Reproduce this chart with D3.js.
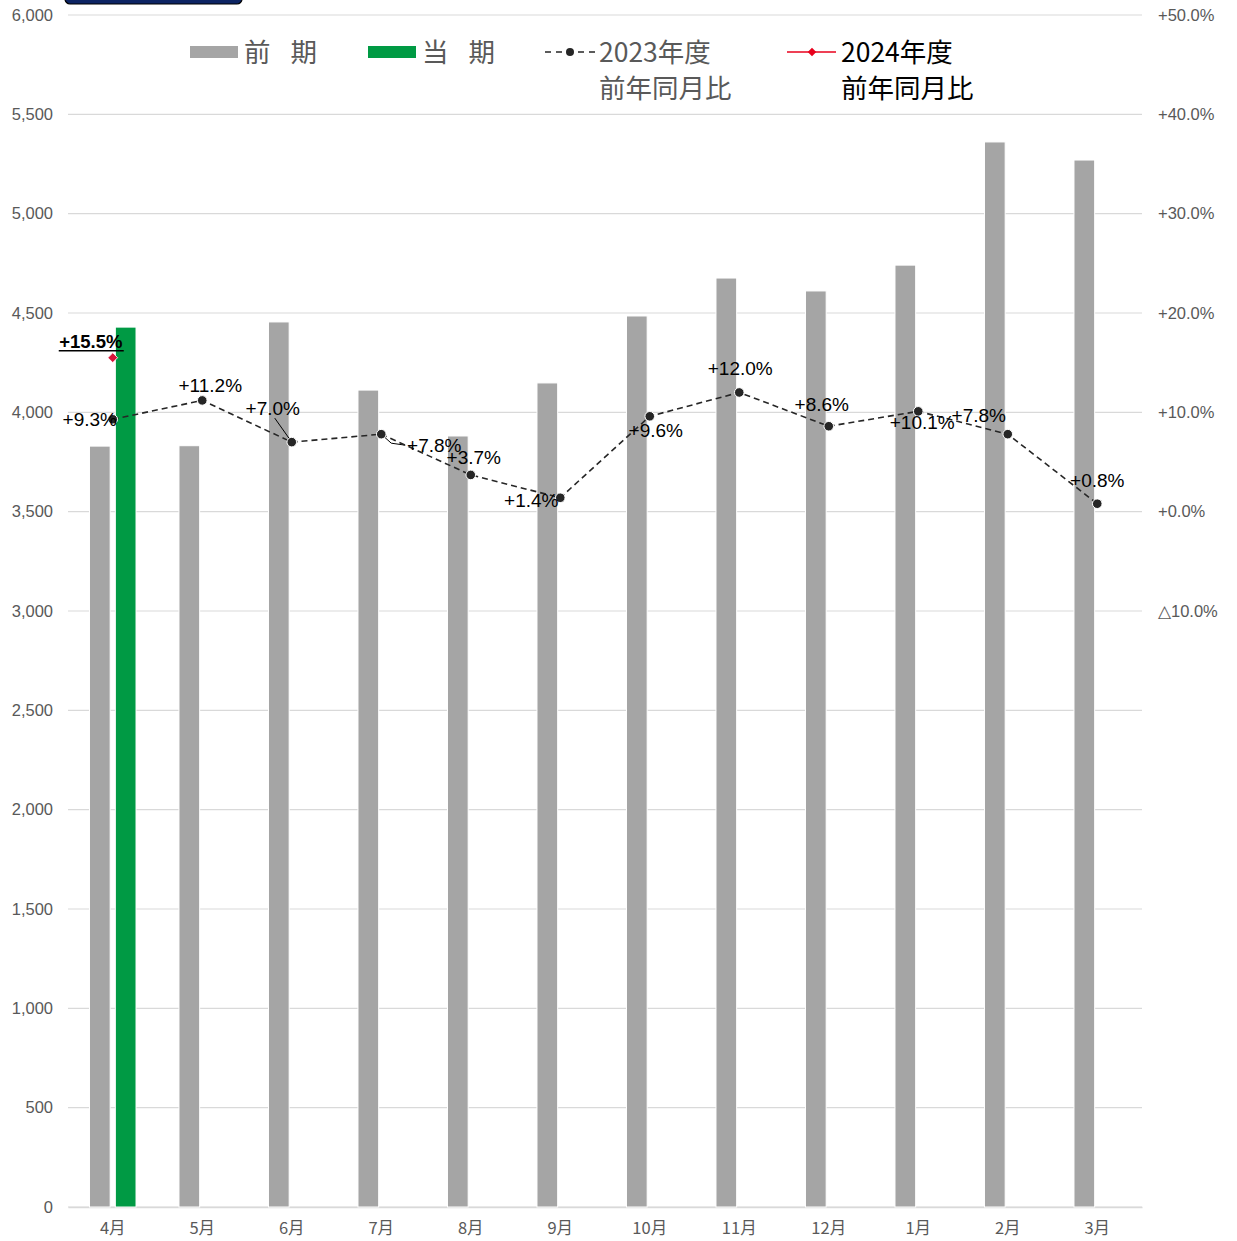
<!DOCTYPE html>
<html>
<head>
<meta charset="utf-8">
<script src="https://cdn.jsdelivr.net/npm/d3@7"></script>
<style>
  html, body { margin: 0; padding: 0; background: #fff; }
  svg { display: block; }
</style>
</head>
<body>
<svg id="chart" width="1237" height="1241"></svg>
<script>
// datos
const months = ["4月", "5月", "6月", "7月", "8月", "9月", "10月", "11月", "12月", "1月", "2月", "3月"];
const prevValues = [3830, 3832, 4455, 4112, 3881, 4148, 4485, 4676, 4611, 4741, 5361, 5270];
const curValues = [4429, null, null, null, null, null, null, null, null, null, null, null];
const yoy2023 = [9.3, 11.2, 7.0, 7.8, 3.7, 1.4, 9.6, 12.0, 8.6, 10.1, 7.8, 0.8];
const yoy2024 = [15.5, null, null, null, null, null, null, null, null, null, null, null];
const leftTicks = [0, 500, 1000, 1500, 2000, 2500, 3000, 3500, 4000, 4500, 5000, 5500, 6000];
const rightTicks = [-10, 0, 10, 20, 30, 40, 50];

// desplazamiento manual de las etiquetas (como en Excel)
const labelOffsets2023 = [[-23, 0], [8, -15], [-19, -34], [53, 11], [3, -18], [-29, 3], [6, 14], [1, -24], [-7, -22], [4, 11], [-29, -19], [0, -23]];
const labelOffset2024 = [-22, -16];

const svg = d3.select("#chart");
const latin = "'Liberation Sans', Arial, sans-serif";
const cjk = "'Noto Sans CJK JP', 'Liberation Sans', sans-serif";
const grey = "#595959";

const margin = { top: 15, right: 95, bottom: 34, left: 68 };
const W = 1237, H = 1241;
const width = W - margin.left - margin.right;
const height = H - margin.top - margin.bottom;

const g = svg.append("g").attr("transform", `translate(${margin.left},${margin.top})`);

const x = d3.scaleBand().domain(months).range([0, width]).paddingInner(0.48).paddingOuter(0.24);
const xSub = d3.scaleBand().domain(["prev", "cur"]).range([0, x.bandwidth()]).paddingInner(0.2);
const y = d3.scaleLinear().domain([0, 6000]).range([height, 0]);
const yR = d3.scaleLinear().domain([-70, 50]).range([height, 0]);
const cx = (m) => x(m) + x.bandwidth() / 2;

// cuadro oscuro arriba a la izquierda
svg.append("rect")
  .attr("x", 65).attr("y", -20).attr("width", 177).attr("height", 24)
  .attr("rx", 5).attr("fill", "#0d2463").attr("stroke", "#000").attr("stroke-width", 1.2);

// cuadricula
g.append("g")
  .selectAll("line")
  .data(leftTicks)
  .join("line")
  .attr("x1", 0).attr("x2", width)
  .attr("y1", (d) => y(d)).attr("y2", (d) => y(d))
  .attr("stroke", "#d9d9d9").attr("stroke-width", 1.2);

// eje izquierdo
const yAxis = d3.axisLeft(y).tickValues(leftTicks).tickSize(0).tickPadding(15).tickFormat(d3.format(","));
g.append("g").call(yAxis)
  .call((s) => s.select(".domain").remove())
  .selectAll("text")
  .attr("font-family", latin).attr("font-size", 16.5).attr("fill", grey);

// eje derecho
const fmtPct = (v) => (v < 0 ? "△" + Math.abs(v).toFixed(1) + "%" : "+" + v.toFixed(1) + "%");
const yAxisR = d3.axisRight(yR).tickValues(rightTicks).tickSize(0).tickPadding(16).tickFormat(fmtPct);
g.append("g").attr("transform", `translate(${width},0)`).call(yAxisR)
  .call((s) => s.select(".domain").remove())
  .selectAll("text")
  .attr("font-family", latin).attr("font-size", 16.5).attr("fill", grey);

// eje x
const xAxis = d3.axisBottom(x).tickSize(0).tickPadding(15);
g.append("g").attr("transform", `translate(0,${height})`).call(xAxis)
  .call((s) => s.select(".domain").attr("stroke", "#d9d9d9").attr("stroke-width", 1.5))
  .selectAll("text")
  .attr("font-family", cjk).attr("font-size", 16.5).attr("fill", grey);

// barras
g.append("g")
  .selectAll("rect")
  .data(months.map((m, i) => ({ m, v: prevValues[i] })))
  .join("rect")
  .attr("x", (d) => x(d.m) + xSub("prev"))
  .attr("width", xSub.bandwidth())
  .attr("y", (d) => y(d.v))
  .attr("height", (d) => y(0) - y(d.v))
  .attr("fill", "#a5a5a5").attr("stroke", "#fff").attr("stroke-width", 1);

g.append("g")
  .selectAll("rect")
  .data(months.map((m, i) => ({ m, v: curValues[i] })).filter((d) => d.v != null))
  .join("rect")
  .attr("x", (d) => x(d.m) + xSub("cur"))
  .attr("width", xSub.bandwidth())
  .attr("y", (d) => y(d.v))
  .attr("height", (d) => y(0) - y(d.v))
  .attr("fill", "#009a44").attr("stroke", "#fff").attr("stroke-width", 1);

// linea 2023
const pts2023 = months.map((m, i) => ({ m, v: yoy2023[i], off: labelOffsets2023[i] }));
const line = d3.line().x((d) => cx(d.m)).y((d) => yR(d.v));

// lineas guia de etiquetas
const leader = g.append("g").attr("stroke", "#000").attr("stroke-width", 1).attr("fill", "none");
leader.append("path")
  .attr("d", `M${cx(months[2]) - 17},${yR(yoy2023[2]) - 24}L${cx(months[2])},${yR(yoy2023[2])}`);
leader.append("path")
  .attr("d", `M${cx(months[3])},${yR(yoy2023[3])}L${cx(months[3]) + 10},${yR(yoy2023[3]) + 9}L${cx(months[3]) + 24},${yR(yoy2023[3]) + 11}`);

g.append("path")
  .datum(pts2023)
  .attr("d", line)
  .attr("fill", "none")
  .attr("stroke", "#262626")
  .attr("stroke-width", 1.6)
  .attr("stroke-dasharray", "6,4");

g.append("g")
  .selectAll("circle")
  .data(pts2023)
  .join("circle")
  .attr("cx", (d) => cx(d.m))
  .attr("cy", (d) => yR(d.v))
  .attr("r", 4.8)
  .attr("fill", "#262626")
  .attr("stroke", "#fff")
  .attr("stroke-width", 1);

g.append("g")
  .selectAll("text")
  .data(pts2023)
  .join("text")
  .attr("x", (d) => cx(d.m) + d.off[0])
  .attr("y", (d) => yR(d.v) + d.off[1])
  .attr("dy", "0.35em")
  .attr("text-anchor", "middle")
  .attr("font-family", latin)
  .attr("font-size", 19)
  .attr("fill", "#000")
  .text((d) => "+" + d.v.toFixed(1) + "%");

// punto 2024
const diamond = d3.symbol().type(d3.symbolSquare).size(48);
const pts2024 = months.map((m, i) => ({ m, v: yoy2024[i] })).filter((d) => d.v != null);
g.append("g")
  .selectAll("path")
  .data(pts2024)
  .join("path")
  .attr("transform", (d) => `translate(${cx(d.m)},${yR(d.v)}) rotate(45)`)
  .attr("d", diamond)
  .attr("fill", "#d7153a")
  .attr("stroke", "#fff")
  .attr("stroke-width", 0.8);

const lab24 = g.append("g")
  .selectAll("g")
  .data(pts2024)
  .join("g")
  .attr("transform", (d) => `translate(${cx(d.m) + labelOffset2024[0]},${yR(d.v) + labelOffset2024[1]})`);
lab24.append("text")
  .attr("dy", "0.35em")
  .attr("text-anchor", "middle")
  .attr("font-family", latin)
  .attr("font-size", 18.5)
  .attr("font-weight", "bold")
  .attr("fill", "#000")
  .text((d) => "+" + d.v.toFixed(1) + "%");
lab24.append("line")
  .attr("x1", -32).attr("x2", 33).attr("y1", 9).attr("y2", 9)
  .attr("stroke", "#000").attr("stroke-width", 1.6);

// leyenda
const legend = svg.append("g");
const legendItems = [
  { type: "bar", color: "#a5a5a5", x: 190, text: [["前", "期"]], textColor: grey },
  { type: "bar", color: "#009a44", x: 368, text: [["当", "期"]], textColor: grey },
  { type: "dash", color: "#262626", x: 545, text: [["2023年度"], ["前年同月比"]], textColor: grey },
  { type: "red", color: "#e8001c", x: 787, text: [["2024年度"], ["前年同月比"]], textColor: "#000" }
];
legendItems.forEach((it) => {
  const lg = legend.append("g").attr("transform", `translate(${it.x},52)`);
  if (it.type === "bar") {
    lg.append("rect").attr("x", 0).attr("y", -6).attr("width", 48).attr("height", 12).attr("fill", it.color);
  } else if (it.type === "dash") {
    lg.append("line").attr("x1", 0).attr("x2", 50).attr("y1", 0).attr("y2", 0)
      .attr("stroke", it.color).attr("stroke-width", 1.6).attr("stroke-dasharray", "6,5");
    lg.append("circle").attr("cx", 25).attr("cy", 0).attr("r", 4).attr("fill", it.color);
  } else {
    lg.append("line").attr("x1", 0).attr("x2", 49).attr("y1", 0).attr("y2", 0)
      .attr("stroke", it.color).attr("stroke-width", 1.6);
    lg.append("path").attr("transform", "translate(25,0) rotate(45)")
      .attr("d", d3.symbol().type(d3.symbolSquare).size(36)).attr("fill", it.color);
  }
  it.text.forEach((parts, j) => {
    const t = lg.append("text")
      .attr("x", 54)
      .attr("y", j * 36)
      .attr("dy", "0.36em")
      .attr("font-family", cjk)
      .attr("font-size", 26.5)
      .attr("fill", it.textColor);
    parts.forEach((p, k) => {
      t.append("tspan").attr("dx", k > 0 ? 20 : 0).text(p);
    });
  });
});
</script>
</body>
</html>
